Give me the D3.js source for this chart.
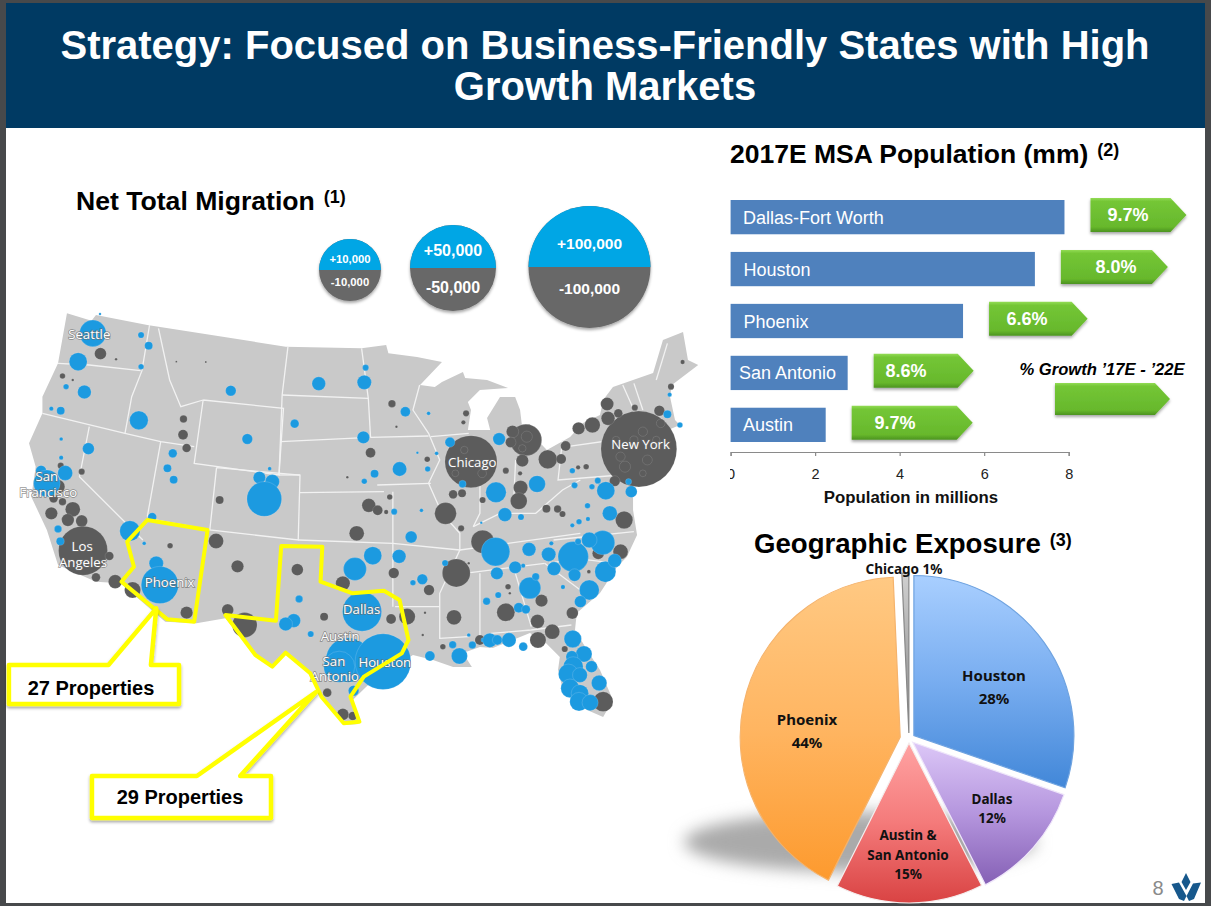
<!DOCTYPE html>
<html>
<head>
<meta charset="utf-8">
<script src="https://cdn.jsdelivr.net/npm/d3@7"></script>
<style>
html, body { margin: 0; padding: 0; background: #fff; overflow: hidden; }
text { font-family: "Liberation Sans", Arial, sans-serif; }
</style>
</head>
<body>
<svg id="chart" width="1211" height="906"></svg>
<script>
// population bars
var msaNames = ['Dallas-Fort Worth', 'Houston', 'Phoenix', 'San Antonio', 'Austin'];
var msaPopulation = [7.9, 7.2, 5.5, 2.77, 2.25];
var msaGrowth = ['9.7%', '8.0%', '6.6%', '8.6%', '9.7%'];
var popTicks = [0, 2, 4, 6, 8];

// pie: printed labels, and the slice sizes as they are actually drawn in the picture
var pieNames = ['Houston', 'Dallas', 'Austin & San Antonio', 'Phoenix', 'Chicago'];
var pieShares = [28, 12, 15, 44, 1];
var pieDrawnShares = [30.3, 12.2, 14.9, 41.9, .7];

// migration legend
var legendSizes = [10000, 50000, 100000];

// metro dots, [map x, map y, net migration in thousands]
var metroGain = [
  [208,100,4.3],[175,185,2.9],[189,276,2.2],[224,42,.4],[316,105,1],[333,137,1.3],[316,200,.9],[148,260,.9],[115,326,.7],[136,332,1.3],
  [311,361,3],[517,272,1.7],[714,251,2.2],[819,203,1],[816,247,2.3],[660,371,1.4],[554,417,1.7],[814,412,2],[908,335,1.6],[960,340,.6],
  [198,446,1.9],[137,417,.6],[137,473,.7],[146,519,2.4],[92,512,1.7],[105,550,4.3],[387,460,1.4],[375,505,1.3],[389,539,1.3],[581,533,2],
  [610,545,2.3],[592,597,5.6],[604,506,.6],[895,507,2.3],[839,521,1.3],[816,544,.9],[958,507,.9],[978,460,.6],[935,458,.4],[883,635,1],
  [944,631,.6],[921,711,1.9],[341,651,1.4],[291,693,3.3],[130,687,1.2],[135,724,1.3],[323,730,.6],[350,790,2.3],[358,855,6],[835,767,2.9],
  [795,807,3.7],[894,769,2.2],[811,935,6.3],[670,897,1.2],[658,962,2.2],[640,972,2.2],[696,1002,1],[780,1080,7.2],[760,1100,5],[858,1085,9],
  [792,1172,1.7],[925,848,.9],[946,838,1.7],[1008,427,1.6],[1118,417,2],[1036,552,1.2],[1111,577,3.3],[1203,552,2.7],[1131,644,2.2],[1167,651,1],
  [1287,556,1],[1282,512,.9],[1339,542,1],[1326,560,.9],[1357,572,2.9],[1414,575,1.9],[1408,545,1],[1316,617,.9],[1366,640,2.4],[1297,665,.9],
  [1282,676,.7],[1317,657,.7],[1495,343,1.3],[1523,375,.9],[1500,284,.7],[1078,668,.4],[1110,755,4.6],[1185,748,2.2],[1229,763,2.3],[1284,770,4.9],
  [1241,806,2.2],[1350,728,3.9],[1320,720,2.5],[1295,725,1],[1235,730,.7],[1356,815,3.4],[1377,782,2.2],[1287,825,2],[1320,870,3.2],[1300,905,1.9],
  [1187,864,3.5],[1200,830,1.2],[1154,802,2],[1113,820,2],[1172,797,.7],[1090,904,1.2],[1116,885,1],[1162,923,1.6],[1178,928,1.4],[1261,861,.7],
  [997,789,1],[1082,1020,.7],[1097,1021,2.3],[1114,1020,1.6],[1140,1020,2.3],[1172,1040,1.4],[1058,1035,1.2],[1014,1034,1.2],[1029,1068,2.6],[963,1068,1.6],
  [1050,1005,.6],[1283,1017,2.8],[1308,1062,2.6],[1281,1070,1.9],[1325,1100,1.9],[1284,1100,3.2],[1273,1122,3.2],[1299,1125,2.4],[1277,1165,3],[1299,1180,2.8],
  [1297,1205,3],[1322,1208,2.6],[1342,1149,2.5]
];
var metroLoss = [
  [225,161,1.9],[260,178,.4],[140,228,.9],[163,240,.4],[411,357,1.2],[410,404,1.6],[418,444,1.4],[395,185,.3],[461,186,.3],[136,497,1],
  [183,515,1],[130,560,2.2],[115,640,2],[163,628,2.4],[152,660,2],[183,663,1.9],[120,595,1.4],[140,605,1.2],[186,752,7.9],[245,768,1.4],
  [215,832,1.4],[258,845,2.2],[297,870,2.6],[381,737,.9],[418,938,2],[484,723,2.4],[532,799,2],[510,930,1.9],[548,975,4],[492,600,1.3],
  [666,809,1.9],[726,950,1.3],[768,850,2.3],[876,957,1.6],[912,950,2.6],[882,819,1.7],[961,870,1.7],[952,938,.4],[947,1005,.4],[878,311,1.2],
  [888,380,.4],[830,458,1.6],[778,532,.4],[826,616,2.2],[846,631,1.6],[873,591,.9],[865,636,.7],[799,700,2.4],[1055,485,8.4],[1178,420,5.1],
  [1148,395,2],[1044,340,1],[1038,367,.7],[1431,447,33],[1360,312,2.1],[1327,375,2.5],[1296,385,2],[1362,355,2.2],[1385,340,1.4],[1422,323,1],
  [1477,332,1.7],[1529,186,.7],[1503,260,1],[1267,438,1.6],[1227,478,3],[1257,477,1.6],[1170,482,2],[1166,563,2.3],[1162,603,2.7],[1133,512,1],
  [1165,520,.7],[1015,583,1.4],[1035,580,1.3],[998,640,3.5],[1081,600,1],[1224,626,1.3],[1249,627,1.2],[1260,642,1],[1398,660,2.8],[1033,685,1],
  [1081,725,3.7],[1022,819,4.5],[1017,952,2.4],[1133,937,2.9],[1138,860,.9],[1213,902,2],[1204,964,2.2],[1237,995,2.4],[1205,1020,2.6],[1282,939,1.9],
  [1340,760,1.9],[1390,755,2.4],[1351,1205,3.2],[1265,1047,1],[992,1040,.9],[1075,1020,1.6],[1144,427,1.7],[733,1178,1.4],[768,1243,1.9],[790,1248,1.4],
  [1313,500,.9],[1295,502,.7],[1377,543,1.7],[957,478,.9],[1050,790,.4],[1142,880,.4],[1319,815,.6],
  [1390,470,1.5],[1440,395,1.5],[1470,420,1.2],[1400,500,1.8],[1450,480,1.6],[1480,370,1.4],[1420,420,1.3],[1380,420,1.2],[1440,520,1.1],
  [1040,450,1.2],[1080,520,1.4],[1020,520,1.1],[1180,410,1.8],[1170,445,1.2]
];

var metroLabels = [
  ['Seattle',200,104],['San',105,530],['Francisco',108,578],['Los',184,740],['Angeles',186,788],['Phoenix',380,848],
  ['Chicago',1058,487],['New York',1435,433],['Dallas',810,927],['Austin',762,1008],['San',748,1085],['Antonio',750,1128],['Houston',862,1087]
];

// map shapes in the same map units
var usOutline = [[150,40],[205,62],[215,45],[330,75],[640,140],[810,145],[865,135],[870,160],[934,171],[990,186],[941,255],[974,261],[990,246],[1037,216],[1042,234],[1091,240],[1138,264],[1075,270],[1057,294],[1048,306],[1055,330],[1048,390],[1098,390],[1091,354],[1120,291],[1154,291],[1165,330],[1169,375],[1187,372],[1210,429],[1225,450],[1277,411],[1306,369],[1344,345],[1351,300],[1373,261],[1463,219],[1485,120],[1530,96],[1541,180],[1564,195],[1505,255],[1501,291],[1512,360],[1523,375],[1470,405],[1440,470],[1418,561],[1418,630],[1427,705],[1404,771],[1382,801],[1344,879],[1292,939],[1288,990],[1315,1050],[1344,1110],[1373,1200],[1351,1251],[1315,1230],[1261,1170],[1250,1110],[1254,1071],[1216,1020],[1187,999],[1104,1044],[1075,1041],[1037,1059],[1057,1101],[1015,1101],[970,1080],[925,1065],[840,1135],[790,1200],[803,1272],[770,1275],[720,1195],[690,1115],[640,1060],[610,1105],[570,1065],[505,955],[440,970],[370,965],[270,850],[215,845],[130,795],[105,690],[70,590],[80,500],[65,430],[95,340],[95,290],[130,190]];
var stateLines = [
  [[130,190],[200,195],[315,212]],[[335,75],[318,212],[295,290],[280,400]],[[355,85],[380,240],[405,320],[455,300]],[[95,340],[280,400],[360,425],[435,440]],
  [[455,300],[635,325],[625,525],[435,490],[455,300]],[[645,140],[632,285],[628,425],[625,525]],[[632,285],[825,295]],[[810,145],[825,295],[830,412]],
  [[628,425],[830,412]],[[672,525],[625,525]],[[672,578],[860,575]],[[485,503],[672,525],[668,720],[470,690],[485,503]],[[668,720],[880,730]],
  [[360,425],[330,650]],[[330,655],[470,690]],[[200,380],[178,530],[320,720]],[[880,575],[880,920]],[[880,730],[1030,750]],[[885,920],[985,920]],
  [[830,412],[960,408]],[[845,555],[965,550]],[[940,255],[925,330],[960,400],[985,480],[960,550],[990,640],[1030,700],[1030,750],[985,880],[985,1015],[1050,1010]],
  [[965,410],[1050,400]],[[1075,450],[1075,640],[1060,680]],[[1155,480],[1150,620]],[[1060,680],[1120,640],[1200,640],[1260,570],[1300,540]],[[1030,750],[1300,700]],
  [[1040,820],[1220,790]],[[1075,820],[1075,1010]],[[1150,800],[1190,980]],[[1100,1000],[1190,990],[1280,975]],[[1260,420],[1250,540],[1390,525]],[[1270,440],[1375,420]],
  [[1240,720],[1420,695]],[[1230,790],[1290,775],[1380,790]],[[1220,790],[1320,890]],[[1470,240],[1495,130]],[[1420,250],[1440,330]],[[1395,255],[1420,330],[1415,410]]
];
var arizonaLine = [[330,660],[465,690],[435,965],[375,958],[272,845],[300,800],[285,725]];
var texasLine = [[630,738],[722,740],[718,845],[790,880],[860,872],[895,900],[915,1020],[900,1060],[815,1130],[785,1190],[805,1265],[770,1270],[720,1190],[695,1120],[640,1058],[610,1100],[572,1065],[505,945],[618,962]];
var callout27 = [[350,925],[243,1095],[20,1095],[20,1212],[401,1212],[401,1095],[338,1095]];
var callout29 = [[708,1176],[441,1428],[206,1428],[206,1554],[607,1554],[607,1428],[538,1428]];

var svg = d3.select('#chart');
var defs = svg.append('defs');

function addGradient(id, stops) {
  var g = defs.append('linearGradient').attr('id', id).attr('x1', 0).attr('y1', 0).attr('x2', 0).attr('y2', 1);
  stops.forEach(function(s) { g.append('stop').attr('offset', s[0]).attr('stop-color', s[1]); });
}
function addShadow(id, dy, blur, opacity) {
  var f = defs.append('filter').attr('id', id).attr('x', '-20%').attr('y', '-20%').attr('width', '140%').attr('height', '150%');
  f.append('feDropShadow').attr('dx', 0).attr('dy', dy).attr('stdDeviation', blur).attr('flood-color', '#000').attr('flood-opacity', opacity);
}
addShadow('softShadow', 2, 1.5, .35);
defs.append('filter').attr('id', 'mapBlur').append('feGaussianBlur').attr('stdDeviation', .6);
defs.append('filter').attr('id', 'pieShadow').attr('x', '-30%').attr('y', '-60%').attr('width', '160%').attr('height', '220%')
  .append('feGaussianBlur').attr('stdDeviation', 8);
addGradient('arrowFill', [[0, '#93dc55'], [.1, '#74c636'], [.85, '#67b82c'], [1, '#4c931f']]);
addGradient('pieHouston', [[0, '#a9cfff'], [.5, '#78adf0'], [1, '#4287d8']]);
addGradient('pieDallas', [[0, '#dcc7f7'], [.5, '#b596de'], [1, '#8560b5']]);
addGradient('pieAustin', [[0, '#ffa3a3'], [.5, '#f47a7a'], [1, '#d94343']]);
addGradient('piePhoenix', [[0, '#ffc983'], [.5, '#ffb561'], [1, '#fd9a2e']]);
addGradient('pieChicago', [[0, '#d0d0d0'], [1, '#858585']]);

// frame and header
svg.append('rect').attr('width', 1211).attr('height', 906).attr('fill', '#47494b');
svg.append('rect').attr('x', 6).attr('y', 3).attr('width', 1199).attr('height', 900).attr('fill', '#fff');
svg.append('rect').attr('x', 6).attr('y', 3).attr('width', 1199).attr('height', 125).attr('fill', '#003a63');
svg.selectAll('.head').data(['Strategy: Focused on Business-Friendly States with High', 'Growth Markets']).enter().append('text')
  .attr('class', 'head')
  .attr('x', 605).attr('y', function(d, i) { return 59 + i * 41; })
  .attr('text-anchor', 'middle').attr('fill', '#fff')
  .style('font-size', '40px').style('font-weight', 'bold')
  .text(function(d) { return d; });

function sectionTitle(label, note, x, y, size) {
  var t = svg.append('text').attr('x', x).attr('y', y).attr('fill', '#000').style('font-weight', 'bold').style('font-size', size + 'px');
  t.append('tspan').text(label);
  t.append('tspan').attr('dx', 9).attr('dy', -7).style('font-size', '18px').text(note);
}
sectionTitle('Net Total Migration', '(1)', 76, 210, 26.6);
sectionTitle('2017E MSA Population (mm)', '(2)', 730, 163, 26.5);
sectionTitle('Geographic Exposure', '(3)', 754, 553, 27.6);

// migration map
var mapX = d3.scaleLinear().domain([0, 1568]).range([0, 700]);
var mapY = d3.scaleLinear().domain([0, 1350]).range([300, 750]);
var migR = d3.scaleLinear().domain([0, 10, 50, 100]).range([0, 31, 43, 61]);
var mapLine = d3.line().x(function(d) { return mapX(d[0]); }).y(function(d) { return mapY(d[1]); });
var closedLine = d3.line().x(mapLine.x()).y(mapLine.y()).curve(d3.curveLinearClosed);

var mapG = svg.append('g').attr('filter', 'url(#mapBlur)');
mapG.append('path').attr('d', closedLine(usOutline)).attr('fill', '#c9c9c9');
mapG.selectAll('.state').data(stateLines).enter().append('path').attr('class', 'state')
  .attr('d', mapLine).attr('fill', 'none').attr('stroke', '#f2f2f2').attr('stroke-width', 1.3);

function drawMetros(data, color, ring) {
  mapG.selectAll(null).data(data).enter().append('circle')
    .attr('cx', function(d) { return mapX(d[0]); })
    .attr('cy', function(d) { return mapY(d[1]); })
    .attr('r', function(d) { return migR(d[2]); })
    .attr('fill', color).attr('stroke', ring).attr('stroke-width', .8);
}
drawMetros(metroLoss, '#5b5b5b', 'rgba(255,255,255,.16)');
drawMetros(metroGain, '#1f9ae0', 'rgba(255,255,255,.18)');

svg.selectAll('.metro').data(metroLabels).enter().append('text').attr('class', 'metro')
  .attr('x', function(d) { return mapX(d[1]); })
  .attr('y', function(d) { return mapY(d[2]) + 4.5; })
  .attr('text-anchor', 'middle').attr('fill', '#fff')
  .attr('stroke', '#6a6a6a').attr('stroke-width', 1.5).attr('stroke-opacity', .7).style('paint-order', 'stroke')
  .style('font-family', '"Open Sans", sans-serif').style('font-size', '13.2px')
  .text(function(d) { return d[0]; });

// yellow outlines and callouts
[arizonaLine, texasLine].forEach(function(shape) {
  svg.append('path').attr('d', closedLine(shape)).attr('fill', 'none')
    .attr('stroke', '#ffff00').attr('stroke-width', 4).attr('stroke-linejoin', 'round');
});
[callout27, callout29].forEach(function(shape) {
  svg.append('path').attr('d', closedLine(shape)).attr('fill', '#fff').attr('filter', 'url(#softShadow)')
    .attr('stroke', '#ffff00').attr('stroke-width', 4.5).attr('stroke-linejoin', 'round');
});
svg.selectAll('.props').data([['27 Properties', 91, 695], ['29 Properties', 180, 804]]).enter().append('text').attr('class', 'props')
  .attr('x', function(d) { return d[1]; }).attr('y', function(d) { return d[2]; })
  .attr('text-anchor', 'middle').attr('fill', '#000').style('font-weight', 'bold').style('font-size', '20px')
  .text(function(d) { return d[0]; });

// size legend, blue half over grey half
var legendPos = [[350, 270], [453, 268], [589.5, 267]];
var legendFont = [11.3, 16, 15.5];
var legendUp = [11, 17.5, 24];
var legendDown = [12, 19, 21];
var fmt = d3.format(',');
legendSizes.forEach(function(v, i) {
  var r = migR(v / 1000), cx = legendPos[i][0], cy = legendPos[i][1];
  var g = svg.append('g').attr('transform', 'translate(' + cx + ',' + cy + ')');
  g.append('circle').attr('r', r).attr('fill', '#686868').attr('filter', 'url(#softShadow)');
  g.append('path').attr('d', d3.arc()({innerRadius: 0, outerRadius: r, startAngle: -Math.PI / 2, endAngle: Math.PI / 2})).attr('fill', '#00a6e5');
  g.selectAll('text').data([['+', -legendUp[i]], ['-', legendDown[i]]]).enter().append('text')
    .attr('y', function(d) { return d[1] + legendFont[i] * .36; }).attr('text-anchor', 'middle').attr('fill', '#fff')
    .style('font-weight', 'bold').style('font-size', legendFont[i] + 'px')
    .text(function(d) { return d[0] + fmt(v); });
});

// population bars
var popX = d3.scaleLinear().domain([0, 8]).range([730.6, 1068.7]);
var popY = d3.scaleBand().domain(msaNames).range([200, 442]).paddingInner(.34);
var barG = svg.append('g');
barG.selectAll('rect').data(msaNames).enter().append('rect')
  .attr('x', popX(0)).attr('y', function(d) { return popY(d); })
  .attr('width', function(d, i) { return popX(msaPopulation[i]) - popX(0); })
  .attr('height', popY.bandwidth())
  .attr('fill', '#4f81bd');
var barLabelX = [743, 743.5, 743.5, 739, 743];
barG.selectAll('text').data(msaNames).enter().append('text')
  .attr('x', function(d, i) { return barLabelX[i]; })
  .attr('y', function(d) { return popY(d) + popY.bandwidth() / 2 + 6.5; })
  .attr('fill', '#fff').style('font-size', '18px')
  .text(function(d) { return d; });

var axisG = svg.append('g').attr('transform', 'translate(0,452)')
  .call(d3.axisBottom(popX).tickValues(popTicks).tickSize(4).tickPadding(13));
axisG.select('.domain').attr('stroke', '#8a8a8a').attr('stroke-width', 1.2);
axisG.selectAll('.tick line').attr('stroke', '#8a8a8a').attr('stroke-width', 1.2);
axisG.selectAll('.tick text').attr('fill', '#222').style('font-size', '14.5px').style('font-family', '"Liberation Sans", Arial, sans-serif');
svg.append('rect').attr('x', 690).attr('y', 462).attr('width', 40).attr('height', 24).attr('fill', '#fff');
svg.append('text').attr('x', 911).attr('y', 503).attr('text-anchor', 'middle').attr('fill', '#111')
  .style('font-weight', 'bold').style('font-size', '16.8px').text('Population in millions');

// growth arrows start a fixed gap after the bar
var arrowLen = [96, 107, 98.6, 100, 121];
var arrowTextX = [1128, 1116, 1027, 906, 895];
var arrowPath = function(x, y, w, h) {
  var notch = h * .47;
  return 'M' + x + ',' + y + 'H' + (x + w - notch) + 'L' + (x + w) + ',' + (y + h / 2) + 'L' + (x + w - notch) + ',' + (y + h) + 'H' + x + 'Z';
};
var arrowG = svg.append('g');
arrowG.selectAll('path').data(msaNames).enter().append('path')
  .attr('d', function(d, i) { return arrowPath(popX(msaPopulation[i]) + 26, popY(d) - 2, arrowLen[i], 34); })
  .attr('fill', 'url(#arrowFill)').attr('filter', 'url(#softShadow)');
arrowG.selectAll('text').data(msaGrowth).enter().append('text')
  .attr('x', function(d, i) { return arrowTextX[i]; })
  .attr('y', function(d, i) { return popY(msaNames[i]) + 21; })
  .attr('text-anchor', 'middle').attr('fill', '#fff').style('font-weight', 'bold').style('font-size', '18px')
  .text(function(d) { return d; });
svg.append('path').attr('d', arrowPath(1055, 383, 115, 32)).attr('fill', 'url(#arrowFill)').attr('filter', 'url(#softShadow)');
svg.append('text').attr('x', 1102).attr('y', 375).attr('text-anchor', 'middle').attr('fill', '#000')
  .style('font-weight', 'bold').style('font-style', 'italic').style('font-size', '16.6px').text('% Growth ’17E - ’22E');

// geographic exposure pie
var pieCx = 909, pieCy = 739, pieR = 160;
var slicePull = [6, 5, 4, 9, 6];
var sliceFill = ['pieHouston', 'pieDallas', 'pieAustin', 'piePhoenix', 'pieChicago'];
var sliceEdge = ['#6fa3e0', '#efe6fa', '#f5eded', '#f5b36c', '#888'];
var pieLayout = d3.pie().sort(null);
var sliceArc = d3.arc().innerRadius(0).outerRadius(pieR);

svg.append('ellipse').attr('cx', 860).attr('cy', 842).attr('rx', 176).attr('ry', 30).attr('fill', '#aaa').attr('filter', 'url(#pieShadow)');

svg.selectAll('.slice').data(pieLayout(pieDrawnShares)).enter().append('path').attr('class', 'slice')
  .attr('d', sliceArc)
  .attr('transform', function(d, i) {
    var mid = (d.startAngle + d.endAngle) / 2;
    return 'translate(' + (pieCx + Math.sin(mid) * slicePull[i]) + ',' + (pieCy - Math.cos(mid) * slicePull[i]) + ')';
  })
  .attr('fill', function(d, i) { return 'url(#' + sliceFill[i] + ')'; })
  .attr('stroke', function(d, i) { return sliceEdge[i]; })
  .attr('stroke-width', 1.2);

var pieTextPos = [[994, 681], [992, 804], [908, 840], [807, 725]];
var pieTextLines = [['Houston'], ['Dallas'], ['Austin &', 'San Antonio'], ['Phoenix']];
var pieGap = [23, 19, 19.5, 23];
pieTextLines.forEach(function(lines, i) {
  var all = lines.concat(pieShares[i] + '%');
  svg.selectAll(null).data(all).enter().append('text')
    .attr('x', pieTextPos[i][0])
    .attr('y', function(d, j) { return pieTextPos[i][1] + j * pieGap[i]; })
    .attr('text-anchor', 'middle').attr('fill', '#111')
    .style('font-family', '"Noto Sans", sans-serif').style('font-weight', 'bold')
    .style('font-size', i === 0 || i === 3 ? '15px' : '13.5px')
    .text(function(d) { return d; });
});
svg.append('text').attr('x', 904).attr('y', 574).attr('text-anchor', 'middle').attr('fill', '#111')
  .style('font-family', '"Noto Sans", sans-serif').style('font-weight', 'bold').style('font-size', '13.5px')
  .text(pieNames[4] + ' ' + pieShares[4] + '%');

// page number and logo
svg.append('text').attr('x', 1158).attr('y', 895).attr('text-anchor', 'middle').attr('fill', '#8a8a8a').style('font-size', '20px').text('8');
svg.append('path').attr('fill', '#17588c')
  .attr('d', 'M1186,873L1190.5,882L1186,890L1181.5,882ZM1171.5,884L1179,882.5L1186.5,896L1184,901L1179,899ZM1201,882.5L1193,883.5L1186.5,896L1189,901L1194,899Z');
</script>
</body>
</html>
